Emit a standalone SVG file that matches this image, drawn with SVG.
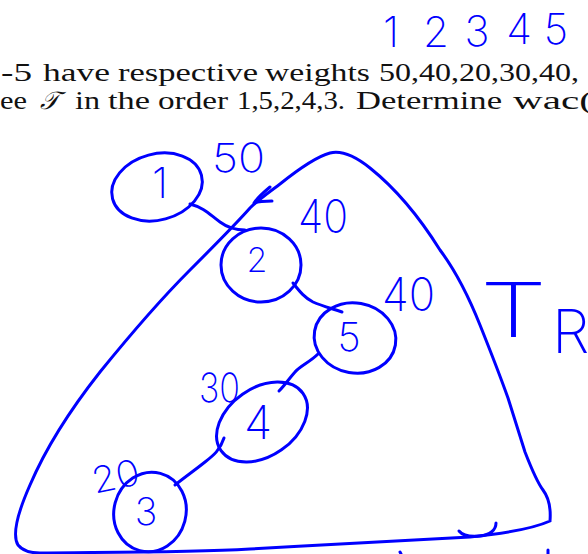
<svg xmlns="http://www.w3.org/2000/svg" width="588" height="554" viewBox="0 0 588 554">
<style>
.pt{font-family:"Liberation Serif","Times New Roman",serif;font-size:25px;fill:#111}
.hw{font-family:"Inter","Noto Sans","Open Sans",sans-serif;font-weight:200;fill:#0000ff}
.ink{fill:none;stroke:#0000ff;stroke-width:3;stroke-linecap:round;stroke-linejoin:round}
</style>
<rect width="588" height="554" fill="#ffffff"/>
<g id="printed">
<text class="pt" y="81"><tspan x="1" textLength="31" lengthAdjust="spacingAndGlyphs">-5</tspan><tspan x="43" textLength="67" lengthAdjust="spacingAndGlyphs">have</tspan><tspan x="118" textLength="140" lengthAdjust="spacingAndGlyphs">respective</tspan><tspan x="265" textLength="105" lengthAdjust="spacingAndGlyphs">weights</tspan><tspan x="379" textLength="200" lengthAdjust="spacingAndGlyphs">50,40,20,30,40,</tspan></text>
<text class="pt" y="109"><tspan x="0" textLength="27" lengthAdjust="spacingAndGlyphs">ee</tspan><tspan x="40" font-style="italic" font-family="Liberation Serif,serif">𝒯</tspan><tspan x="75" textLength="25" lengthAdjust="spacingAndGlyphs">in</tspan><tspan x="108" textLength="42" lengthAdjust="spacingAndGlyphs">the</tspan><tspan x="158" textLength="70" lengthAdjust="spacingAndGlyphs">order</tspan><tspan x="237" textLength="108" lengthAdjust="spacingAndGlyphs">1,5,2,4,3.</tspan><tspan x="356" textLength="146" lengthAdjust="spacingAndGlyphs">Determine</tspan><tspan x="513" textLength="80" lengthAdjust="spacingAndGlyphs">wac(</tspan></text>
</g>
<g id="header-numbers" class="hw" font-size="42" text-anchor="middle">
<text x="391" y="47">1</text><text x="436" y="47">2</text><text x="477" y="46">3</text><text x="519" y="44">4</text><text x="556" y="44">5</text>
</g>
<g id="region-TR">
<path class="ink" d="M550,521 C551,508 549,498 543,490 C537,482 532,470 525,452 L508,398 C498,370 490,350 480,325 C470,300 455,270 440,250 C420,218 395,188 370,168 C355,156 342,150 330,153 C315,157 295,172 280,184 C268,193 258,200 250,208 C235,225 215,245 190,270 C160,300 130,335 100,372 C70,410 45,450 30,485 C18,512 12,535 18,545 C22,550 28,553 40,553 C80,552 180,553 250,549 C330,544 420,540 470,537 C500,534 530,530 550,521"/>
<path class="ink" d="M270,187 C264,192 258,197 254,203 C260,201 266,201 272,201"/>
<path class="ink" d="M459,531 C463,536 470,537 480,536 C490,535 496,530 496,523"/>
<path class="ink" d="M400,552 L401,554 M548,550 L548,554"/>
<text class="hw" x="480" y="337" font-size="76" font-weight="100" textLength="67" lengthAdjust="spacingAndGlyphs">T</text>
<text class="hw" x="552" y="353" font-size="60" font-weight="100">R</text>
</g>
<g id="connectors">
<path class="ink" d="M190,204 C205,208 210,215 220,222 C228,228 235,230 245,230"/>
<path class="ink" d="M293,283 C300,292 305,298 313,302 C322,306 330,308 342,312"/>
<path class="ink" d="M318,354 C310,362 300,366 295,372 C288,380 284,386 279,391"/>
<path class="ink" d="M224,438 C220,450 214,455 205,462 C195,470 185,477 175,485"/>
</g>
<g id="node-1">
<ellipse class="ink" cx="157" cy="187" rx="46" ry="33" transform="rotate(-15 157 187)"/>
<text class="hw" x="160" y="198" font-size="42" text-anchor="middle">1</text>
<text class="hw" x="212" y="172" font-size="40" textLength="53" lengthAdjust="spacingAndGlyphs">50</text>
</g>
<g id="node-2">
<ellipse class="ink" cx="261" cy="265" rx="40" ry="37"/>
<text class="hw" x="257" y="272" font-size="34" text-anchor="middle">2</text>
<text class="hw" x="298" y="233" font-size="46" textLength="50" lengthAdjust="spacingAndGlyphs">40</text>
</g>
<g id="node-5">
<ellipse class="ink" cx="355" cy="338" rx="41" ry="35" transform="rotate(10 355 338)"/>
<text class="hw" x="349" y="351" font-size="40" text-anchor="middle">5</text>
<text class="hw" x="382" y="311" font-size="46" textLength="53" lengthAdjust="spacingAndGlyphs">40</text>
</g>
<g id="node-4">
<ellipse class="ink" cx="262" cy="422" rx="50" ry="34" transform="rotate(-35 262 422)"/>
<text class="hw" x="258" y="439" font-size="46" text-anchor="middle">4</text>
<text class="hw" x="199" y="402" font-size="40" textLength="41" lengthAdjust="spacingAndGlyphs">30</text>
</g>
<g id="node-3">
<ellipse class="ink" cx="150" cy="512" rx="36" ry="40" transform="rotate(15 150 512)"/>
<text class="hw" x="146" y="525" font-size="38" text-anchor="middle">3</text>
<text class="hw" x="92" y="489" font-size="36" textLength="48" lengthAdjust="spacingAndGlyphs" transform="rotate(-12 116 478)">20</text>
</g>
</svg>
